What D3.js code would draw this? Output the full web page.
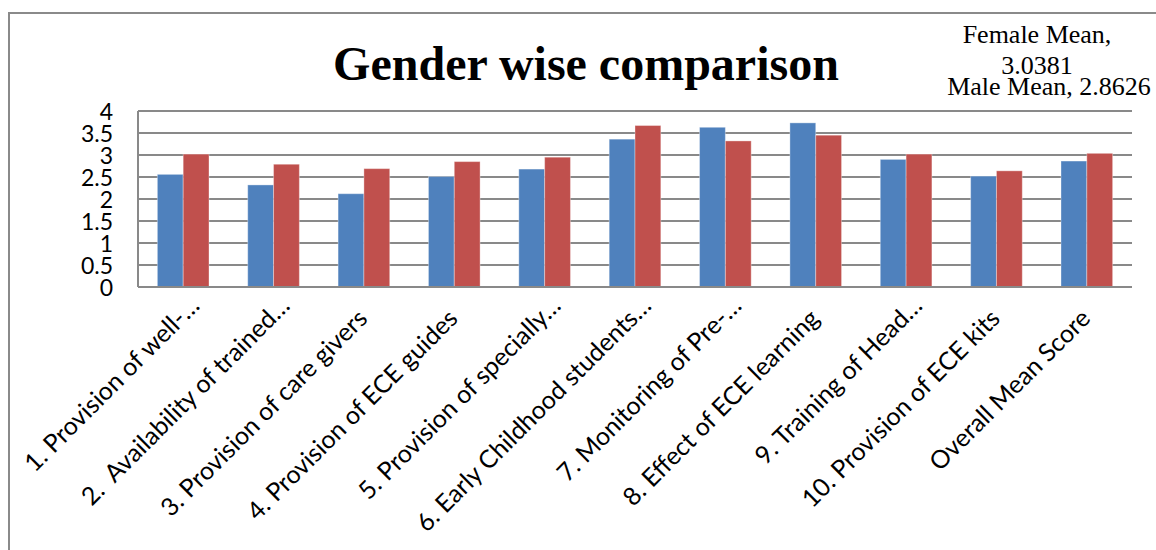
<!DOCTYPE html>
<html>
<head>
<meta charset="utf-8">
<script src="https://cdn.jsdelivr.net/npm/d3@7"></script>
<style>
  html, body { margin: 0; padding: 0; background: #ffffff; }
  svg { display: block; }
</style>
</head>
<body>
<svg id="chart" width="1156" height="550"></svg>
<script>
// Survey items (x axis categories)
const categories = [
  "1. Provision of well-…",
  "2.  Availability of trained…",
  "3. Provision of care givers",
  "4. Provision of ECE guides",
  "5. Provision of specially…",
  "6. Early Childhood students…",
  "7. Monitoring of Pre-…",
  "8. Effect of ECE learning",
  "9. Training of Head…",
  "10. Provision of ECE kits",
  "Overall Mean Score"
];

// Mean scores per item
const maleMean   = [2.56, 2.32, 2.12, 2.51, 2.68, 3.36, 3.63, 3.73, 2.90, 2.52, 2.8626];
const femaleMean = [3.02, 2.79, 2.69, 2.85, 2.95, 3.67, 3.32, 3.45, 3.02, 2.64, 3.0381];

const seriesNames = ["Male Mean", "Female Mean"];
const yTicks = [0, 0.5, 1, 1.5, 2, 2.5, 3, 3.5, 4];
const titleText = "Gender wise comparison";

const colors = { "Male Mean": "#4F81BD", "Female Mean": "#C0504D" };

const svg = d3.select("#chart");
const plot = { left: 138, right: 1132, top: 111, bottom: 287 };

// outer chart frame (runs past the right and bottom edges)
svg.append("rect")
  .attr("x", 9).attr("y", 13)
  .attr("width", 1300).attr("height", 700)
  .attr("fill", "#ffffff")
  .attr("stroke", "#8a8a8a")
  .attr("stroke-width", 2);

const x0 = d3.scaleBand().domain(categories).range([plot.left, plot.right])
  .paddingInner(0).paddingOuter(0);
const x1 = d3.scaleBand().domain(seriesNames).range([0, x0.bandwidth()])
  .paddingInner(0).paddingOuter(0.75);
const y = d3.scaleLinear().domain([0, 4]).range([plot.bottom, plot.top]);

// horizontal gridlines
svg.append("g").selectAll("line").data(yTicks.filter(t => t > 0)).join("line")
  .attr("x1", plot.left).attr("x2", plot.right)
  .attr("y1", d => Math.round(y(d))).attr("y2", d => Math.round(y(d)))
  .attr("stroke", "#898989").attr("stroke-width", 2);

// y axis labels
const yAxis = d3.axisLeft(y).tickValues(yTicks).tickSize(0).tickPadding(0)
  .tickFormat(d3.format("~g"));
const yg = svg.append("g").attr("transform", `translate(${plot.left - 25},0)`).call(yAxis);
yg.select(".domain").remove();
yg.selectAll("text")
  .attr("font-family", "Lato, 'Open Sans', sans-serif")
  .attr("font-size", 23)
  .attr("fill", "#000")
  .attr("dy", "0.36em");

// bars
const rows = categories.map((c, i) => ({ cat: c, values: [
  { key: "Male Mean", value: maleMean[i] },
  { key: "Female Mean", value: femaleMean[i] }
]}));

const groups = svg.append("g").selectAll("g").data(rows).join("g")
  .attr("transform", d => `translate(${x0(d.cat)},0)`);
groups.selectAll("rect").data(d => d.values).join("rect")
  .attr("x", d => x1(d.key))
  .attr("y", d => y(d.value))
  .attr("width", x1.bandwidth())
  .attr("height", d => y(0) - y(d.value))
  .attr("fill", d => colors[d.key])
  .attr("stroke", "rgba(255,255,255,0.35)")
  .attr("stroke-width", 1);

// left axis line and baseline
svg.append("line")
  .attr("x1", plot.left).attr("x2", plot.left)
  .attr("y1", plot.top).attr("y2", Math.round(y(0)))
  .attr("stroke", "#898989").attr("stroke-width", 2);
svg.append("line")
  .attr("x1", plot.left).attr("x2", plot.right)
  .attr("y1", Math.round(y(0))).attr("y2", Math.round(y(0)))
  .attr("stroke", "#898989").attr("stroke-width", 2);

// rotated category labels
svg.append("g").selectAll("text").data(categories).join("text")
  .attr("transform", d => {
    const cx = x0(d) + x0.bandwidth() / 2 + 5;
    return `translate(${cx},320) rotate(-45)`;
  })
  .attr("dx", d => d.endsWith("…") ? 18 : 0)
  .attr("text-anchor", "end")
  .attr("font-family", "Lato, 'Open Sans', sans-serif")
  .attr("font-size", 25)
  .attr("fill", "#000")
  .style("white-space", "pre")
  .text(d => d);

// title
svg.append("text")
  .attr("x", 586).attr("y", 80)
  .attr("text-anchor", "middle")
  .attr("font-family", "'Liberation Serif', 'Times New Roman', serif")
  .attr("font-weight", "bold")
  .attr("font-size", 48)
  .attr("fill", "#000")
  .text(titleText);

// value labels for the overall mean bars
const last = categories.length - 1;
const fmt = d3.format(".4f");
const fem = svg.append("text")
  .attr("text-anchor", "middle")
  .attr("font-family", "'Liberation Serif', 'Times New Roman', serif")
  .attr("font-size", 26)
  .attr("fill", "#000");
fem.append("tspan").attr("x", 1037).attr("y", 43).text("Female Mean,");
fem.append("tspan").attr("x", 1037).attr("y", 74).text(fmt(femaleMean[last]));

svg.append("text")
  .attr("x", 1049).attr("y", 95)
  .attr("text-anchor", "middle")
  .attr("font-family", "'Liberation Serif', 'Times New Roman', serif")
  .attr("font-size", 26)
  .attr("fill", "#000")
  .text(`Male Mean, ${fmt(maleMean[last])}`);
</script>
</body>
</html>
